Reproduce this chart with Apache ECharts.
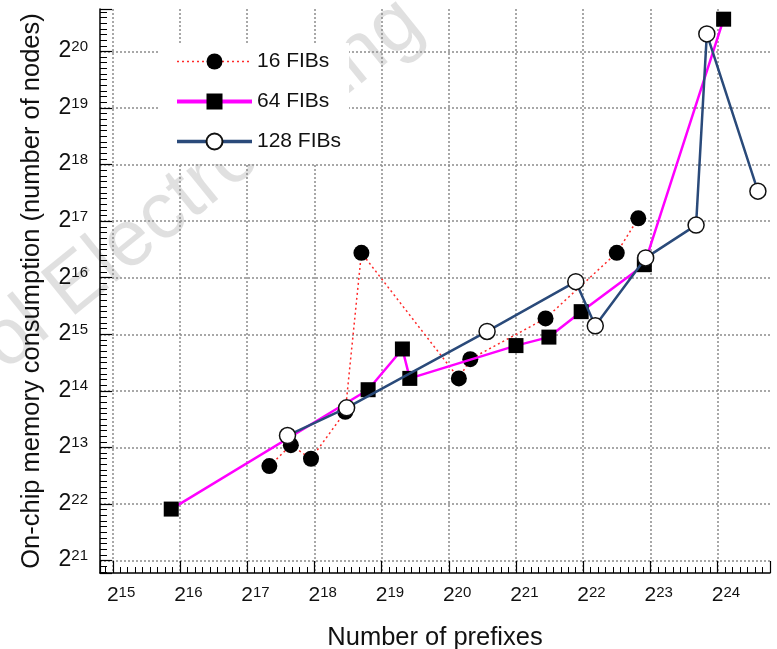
<!DOCTYPE html>
<html><head><meta charset="utf-8">
<script src="https://cdn.jsdelivr.net/npm/echarts@6/dist/echarts.min.js"></script>
<style>html,body{margin:0;padding:0;background:#fff}#c{width:777px;height:649px}</style>
</head><body><div id="c"></div>
<script>
// values are log2 (exponents)
const seriesNames = ['16 FIBs', '64 FIBs', '128 FIBs'];
const fib16X = [17.33, 17.65, 17.95, 18.46, 18.70, 20.15, 20.32, 21.44, 22.50, 22.82];
const fib16Y = [12.67, 13.04, 12.80, 13.63, 16.44, 14.22, 14.56, 15.28, 16.44, 17.05];
const fib64X = [15.87, 18.80, 19.31, 19.42, 21.00, 21.49, 21.97, 22.91, 24.09];
const fib64Y = [11.91, 14.02, 14.74, 14.22, 14.80, 14.95, 15.40, 16.23, 20.57];
const fib128X = [17.60, 18.48, 20.57, 21.89, 22.18, 22.93, 23.68, 23.84, 24.60];
const fib128Y = [13.21, 13.70, 15.05, 15.93, 15.15, 16.35, 16.93, 20.31, 17.53];
const xTickExps = [15, 16, 17, 18, 19, 20, 21, 22, 23, 24];
const xTickLabels = ['15', '16', '17', '18', '19', '20', '21', '22', '23', '24'];
const yTickExps = [11, 12, 13, 14, 15, 16, 17, 18, 19, 20];
const yTickLabels = ['21', '22', '13', '14', '15', '16', '17', '18', '19', '20'];
const xAxisTitle = 'Number of prefixes';
const yAxisTitle = 'On-chip memory consumption (number of nodes)';
const watermarkText = 'ol Electron Eng';

const FONT = '"Liberation Sans", Arial, sans-serif';
function pairs(xs, ys) { return xs.map((x, i) => [x, ys[i]]); }
function lookup(v, exps, labels) {
  const r = Math.round(v);
  if (Math.abs(v - r) > 1e-6) return null;
  const i = exps.indexOf(r);
  return i < 0 ? null : labels[i];
}
const chart = echarts.init(document.getElementById('c'), null, { renderer: 'canvas' });
const gridCol = '#8c8c8c';
const option = {
  backgroundColor: '#fff',
  animation: false,
  grid: { left: 100, right: 7, top: 9, bottom: 76, containLabel: false, outerBoundsMode: 'none' },
  xAxis: {
    type: 'value', min: 14.81, max: 24.78, splitNumber: 10,
    name: xAxisTitle, nameLocation: 'middle', nameGap: 52,
    nameTextStyle: { fontFamily: FONT, fontSize: 25.5, color: '#111' },
    axisLine: { show: true, onZero: false, lineStyle: { color: '#000', width: 1.5 } },
    axisTick: { show: true, inside: true, length: 12, lineStyle: { color: '#000', width: 1.2 } },
    minorTick: { show: true, splitNumber: 9, length: 6, lineStyle: { color: '#000', width: 1 } },
    splitLine: { show: true, showMinLine: false, showMaxLine: false, lineStyle: { color: gridCol, width: 1.5, type: [2, 2] } },
    axisLabel: {
      margin: 12, showMinLabel: false, showMaxLabel: false, color: '#111',
      formatter: function (v) {
        const l = lookup(v, xTickExps, xTickLabels);
        return l === null ? '' : '{h|' + l + '}{b|2}{s|' + l + '}';
      },
      rich: {
        h: { fontFamily: FONT, fontSize: 15, color: 'rgba(0,0,0,0)', lineHeight: 4, verticalAlign: 'top' },
        b: { fontFamily: FONT, fontSize: 21, color: '#111', lineHeight: 28, verticalAlign: 'top' },
        s: { fontFamily: FONT, fontSize: 15, color: '#111', lineHeight: 4, verticalAlign: 'top' }
      }
    }
  },
  yAxis: {
    type: 'value', min: 10.78, max: 20.75, splitNumber: 10,
    name: yAxisTitle, nameLocation: 'middle', nameGap: 55, nameRotate: 90,
    nameTextStyle: { fontFamily: FONT, fontSize: 25.5, color: '#111' },
    axisLine: { show: true, onZero: false, lineStyle: { color: '#000', width: 1.5 } },
    axisTick: { show: true, inside: true, length: 12, lineStyle: { color: '#000', width: 1.2 } },
    minorTick: { show: true, splitNumber: 10, length: 7, lineStyle: { color: '#000', width: 1 } },
    splitLine: { show: true, showMinLine: false, showMaxLine: false, lineStyle: { color: gridCol, width: 1.5, type: [2, 2] } },
    axisLabel: {
      margin: 12, showMinLabel: false, showMaxLabel: false, color: '#111',
      formatter: function (v) {
        const l = lookup(v, yTickExps, yTickLabels);
        return l === null ? '' : '{b|2}{s|' + l + '}';
      },
      rich: {
        b: { fontFamily: FONT, fontSize: 23, color: '#111', lineHeight: 24, verticalAlign: 'top' },
        s: { fontFamily: FONT, fontSize: 15, color: '#111', lineHeight: 8, verticalAlign: 'top' }
      }
    }
  },
  legend: {
    orient: 'vertical', left: 160, top: 43,
    padding: [8, 8, 12, 15], itemGap: 19,
    itemWidth: 75, itemHeight: 20,
    backgroundColor: '#fff',
    textStyle: { fontFamily: FONT, fontSize: 21, color: '#111' },
    data: [
      { name: seriesNames[0], lineStyle: { width: 1.5 } },
      { name: seriesNames[1], lineStyle: { width: 4 } },
      { name: seriesNames[2], lineStyle: { width: 3.5 } }
    ]
  },
  graphic: [{
    type: 'text', z: -1, silent: true,
    x: 16, y: 386, rotation: 39 * Math.PI / 180,
    style: { text: watermarkText, fontFamily: FONT, fontSize: 80, fill: 'rgba(0,0,0,0.12)', textAlign: 'left', textVerticalAlign: 'bottom' }
  }],
  series: [
    {
      name: seriesNames[0], type: 'line', data: pairs(fib16X, fib16Y),
      symbol: 'circle', symbolSize: 16, z: 3,
      lineStyle: { color: '#ff2a2a', width: 1.5, type: [2, 3] },
      itemStyle: { color: '#000', borderColor: '#000', borderWidth: 0 }
    },
    {
      name: seriesNames[1], type: 'line', data: pairs(fib64X, fib64Y),
      symbol: 'rect', symbolSize: 15, z: 4,
      lineStyle: { color: '#ff00ff', width: 2.5 },
      itemStyle: { color: '#000', borderColor: '#000', borderWidth: 0 }
    },
    {
      name: seriesNames[2], type: 'line', data: pairs(fib128X, fib128Y),
      symbol: 'circle', symbolSize: 16, z: 5,
      lineStyle: { color: '#2a4a7a', width: 2.5 },
      itemStyle: { color: '#fff', borderColor: '#111', borderWidth: 1.5 }
    }
  ]
};
chart.setOption(option);
</script></body></html>
